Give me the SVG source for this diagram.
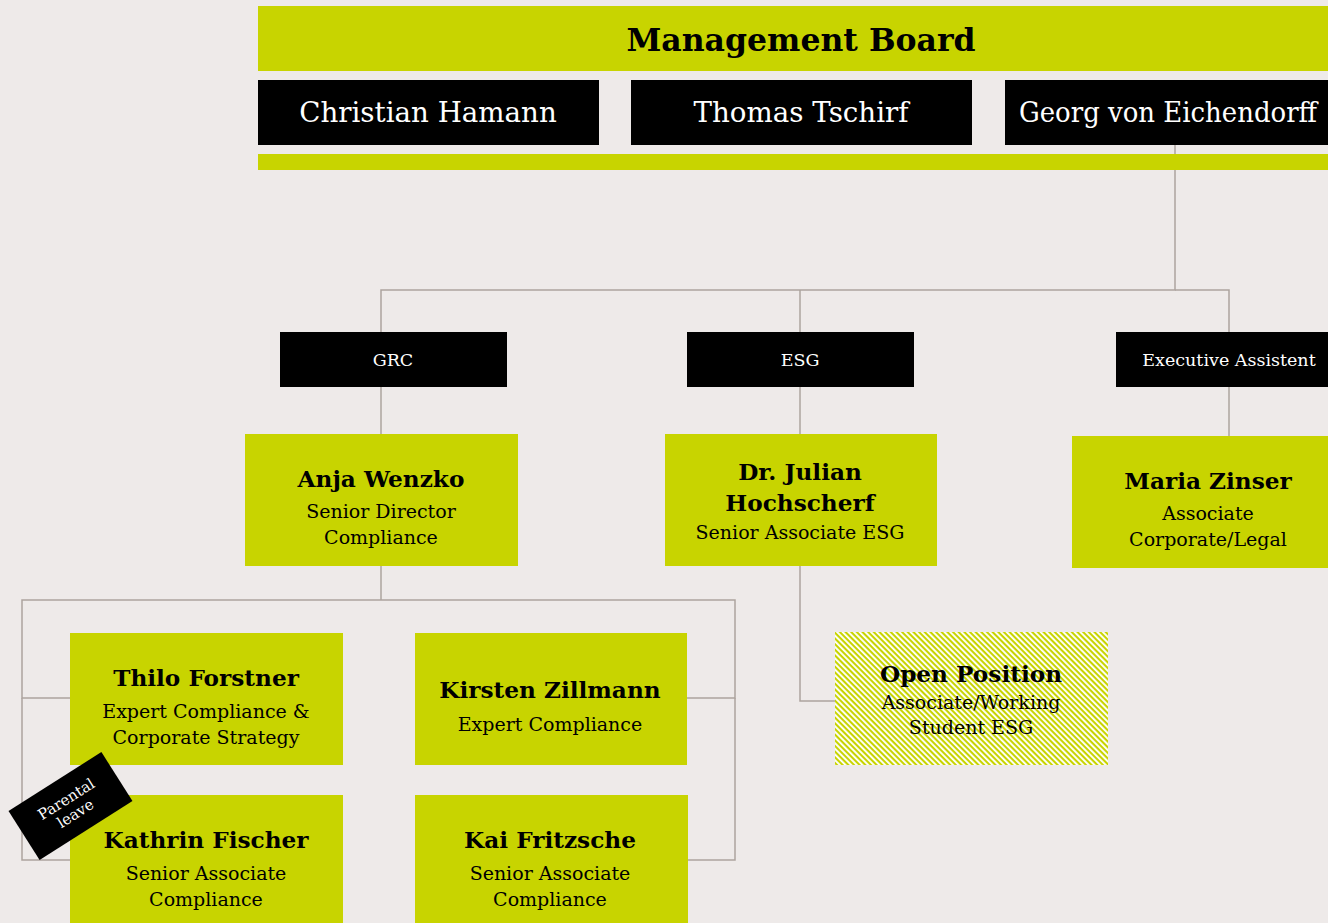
<svg xmlns="http://www.w3.org/2000/svg" width="1328" height="923" viewBox="0 0 1328 923">
<defs>
<style>
.bg{fill:#EEEAE9}
.g{fill:#C8D400}
.k{fill:#000}
.ln{fill:none;stroke:#ADA49E;stroke-width:1.5}
text{font-family:"DejaVu Serif","Liberation Serif",serif;text-anchor:middle}
.title{font-size:31.5px;font-weight:bold;fill:#000}
.mb{font-size:27.7px;fill:#fff}
.dep{font-size:17.5px;fill:#fff}
.nm{font-size:23.2px;font-weight:bold;fill:#000}
.rl{font-size:19px;fill:#000}
.pl{font-size:15px;fill:#fff}
</style>
<pattern id="hatch" width="4" height="4" patternUnits="userSpaceOnUse" patternTransform="rotate(-45)">
<rect width="4" height="4" fill="#C8D400"/>
<rect width="1.9" height="4" fill="#fff"/>
</pattern>
</defs>
<rect class="bg" width="1328" height="923"/>

<g id="connectors">
<polyline class="ln" points="1175,145 1175,290 381,290 381,332"/>
<polyline class="ln" points="1175,290 1229,290 1229,332"/>
<line class="ln" x1="800" y1="290" x2="800" y2="332"/>
<line class="ln" x1="381" y1="387" x2="381" y2="434"/>
<line class="ln" x1="800" y1="387" x2="800" y2="434"/>
<line class="ln" x1="1229" y1="387" x2="1229" y2="436"/>
<line class="ln" x1="381" y1="566" x2="381" y2="600"/>
<polyline class="ln" points="70,698 22,698 22,600 735,600 735,698 687,698"/>
<polyline class="ln" points="70,860 22,860 22,698"/>
<polyline class="ln" points="688,860 735,860 735,698"/>
<polyline class="ln" points="800,566 800,701 835,701"/>
</g>

<g id="management-board">
<rect class="g" x="258" y="6" width="1080" height="65"/>
<text class="title" x="801" y="51">Management Board</text>
<rect class="g" x="258" y="154" width="1080" height="16"/>
</g>
<g id="christian-hamann">
<rect class="k" x="258" y="80" width="341" height="65"/>
<text class="mb" x="428" y="122">Christian Hamann</text>
</g>
<g id="thomas-tschirf">
<rect class="k" x="631" y="80" width="341" height="65"/>
<text class="mb" x="801" y="122">Thomas Tschirf</text>
</g>
<g id="georg-von-eichendorff">
<rect class="k" x="1005" y="80" width="341" height="65"/>
<text class="mb" x="1019" y="122" style="text-anchor:start" textLength="298" lengthAdjust="spacingAndGlyphs">Georg von Eichendorff</text>
</g>

<g id="grc">
<rect class="k" x="280" y="332" width="227" height="55"/>
<text class="dep" x="393" y="366">GRC</text>
</g>
<g id="esg">
<rect class="k" x="687" y="332" width="227" height="55"/>
<text class="dep" x="800" y="366">ESG</text>
</g>
<g id="executive-assistent">
<rect class="k" x="1116" y="332" width="227" height="55"/>
<text class="dep" x="1229" y="366">Executive Assistent</text>
</g>

<g id="anja-wenzko">
<rect class="g" x="245" y="434" width="273" height="132"/>
<text class="nm" x="381" y="487">Anja Wenzko</text>
<text class="rl" x="381" y="518">Senior Director</text>
<text class="rl" x="381" y="544">Compliance</text>
</g>
<g id="julian-hochscherf">
<rect class="g" x="665" y="434" width="272" height="132"/>
<text class="nm" x="800" y="480">Dr. Julian</text>
<text class="nm" x="800" y="511">Hochscherf</text>
<text class="rl" x="800" y="539">Senior Associate ESG</text>
</g>
<g id="maria-zinser">
<rect class="g" x="1072" y="436" width="273" height="132"/>
<text class="nm" x="1208" y="489">Maria Zinser</text>
<text class="rl" x="1208" y="520">Associate</text>
<text class="rl" x="1208" y="546">Corporate/Legal</text>
</g>

<g id="thilo-forstner">
<rect class="g" x="70" y="633" width="273" height="132"/>
<text class="nm" x="206" y="686">Thilo Forstner</text>
<text class="rl" x="206" y="718">Expert Compliance &amp;</text>
<text class="rl" x="206" y="744">Corporate Strategy</text>
</g>
<g id="kirsten-zillmann">
<rect class="g" x="415" y="633" width="272" height="132"/>
<text class="nm" x="550" y="698">Kirsten Zillmann</text>
<text class="rl" x="550" y="731">Expert Compliance</text>
</g>
<g id="kathrin-fischer">
<rect class="g" x="70" y="795" width="273" height="135"/>
<text class="nm" x="206" y="848">Kathrin Fischer</text>
<text class="rl" x="206" y="880">Senior Associate</text>
<text class="rl" x="206" y="906">Compliance</text>
</g>
<g id="kai-fritzsche">
<rect class="g" x="415" y="795" width="273" height="135"/>
<text class="nm" x="550" y="848">Kai Fritzsche</text>
<text class="rl" x="550" y="880">Senior Associate</text>
<text class="rl" x="550" y="906">Compliance</text>
</g>
<g id="open-position">
<rect x="835" y="632" width="273" height="133" fill="url(#hatch)"/>
<text class="nm" x="971" y="682">Open Position</text>
<text class="rl" x="971" y="709">Associate/Working</text>
<text class="rl" x="971" y="734">Student ESG</text>
</g>
<g id="parental-leave" transform="translate(70.5,806) rotate(-32.4)">
<rect class="k" x="-55" y="-29" width="110" height="58"/>
<text class="pl" x="0" y="-3">Parental</text>
<text class="pl" x="0" y="14">leave</text>
</g>
</svg>
